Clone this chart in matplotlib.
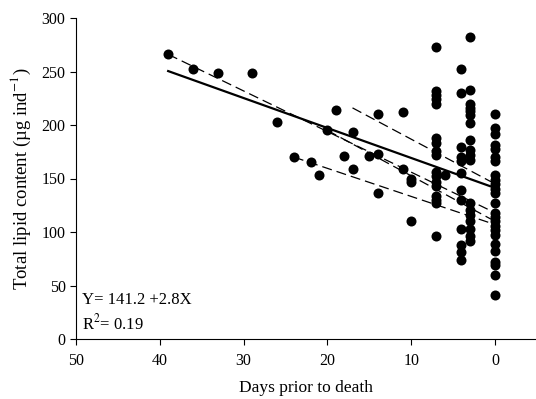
import numpy as np
import matplotlib
matplotlib.use("Agg")
import matplotlib.pyplot as plt

plt.rcParams['font.family'] = ['Liberation Serif', 'DejaVu Serif']
plt.rcParams['mathtext.fontset'] = 'stix'

# days prior to death and total lipid content, one entry per individual
days = [39, 36, 33, 29, 26, 24, 22, 21, 20, 19, 18, 17, 17, 15, 14, 14, 14,
        11, 11, 10, 10, 10, 6] \
    + [7] * 17 + [4] * 12 + [3] * 18 + [0] * 25
lipid = [266, 252, 249, 249, 203, 170, 165, 153, 195, 214, 171, 193, 159,
         171, 210, 173, 136, 212, 159, 150, 147, 110, 153] \
    + [273, 232, 228, 224, 220, 188, 183, 176, 172, 156, 152, 147, 143, 134,
       130, 127, 96] \
    + [252, 230, 179, 170, 166, 155, 139, 130, 103, 88, 81, 74] \
    + [282, 233, 220, 216, 213, 209, 202, 186, 177, 172, 167, 127, 121, 116,
       110, 103, 96, 92] \
    + [210, 197, 192, 181, 178, 170, 166, 153, 149, 145, 140, 136, 127, 118,
       114, 110, 106, 102, 97, 89, 82, 72, 69, 60, 41]

# overall regression (Y = a + bX)
intercept = 141.2
slope = 2.8
fit_days = [39, 0]

# individual regressions (start day, start value, end day, end value)
ind_start_day = [39, 20, 24, 17]
ind_start_val = [266, 195, 170, 216]
ind_end_day = [0, 0, 0, 0]
ind_end_val = [118, 110, 107, 145]

fig = plt.figure(figsize=(5.36, 3.99), dpi=100)
ax = fig.add_axes([76/536, 60/399, 460/536, 321/399])

for i in range(len(ind_start_day)):
    ax.plot([ind_start_day[i], ind_end_day[i]],
            [ind_start_val[i], ind_end_val[i]],
            color='black', lw=0.9, dashes=(8, 4), zorder=2)

fx = np.array(fit_days)
ax.plot(fx, intercept + slope * fx, color='black', lw=1.6, zorder=3)

ax.scatter(days, lipid, s=52, color='black', zorder=4, linewidths=0)

ax.set_xlim(50, -4.9)
ax.set_ylim(0, 300)
ax.set_xticks(range(50, -1, -10))
ax.set_yticks(range(0, 301, 50))
ax.spines['top'].set_visible(False)
ax.spines['right'].set_visible(False)
ax.tick_params(direction='out', length=4, labelsize=11.5)
ax.tick_params(axis='x', pad=6)

ax.set_xlabel('Days prior to death', fontsize=12.5, labelpad=8)
ax.set_ylabel('Total lipid content (µg ind$^{-1}$)', fontsize=13.5, labelpad=6)

ax.text(0.013, 0.11, 'Y= 141.2 +2.8X', transform=ax.transAxes, fontsize=12)
ax.text(0.013, 0.03, 'R$^2$= 0.19', transform=ax.transAxes, fontsize=12)

fig.savefig('out.png', dpi=100)
